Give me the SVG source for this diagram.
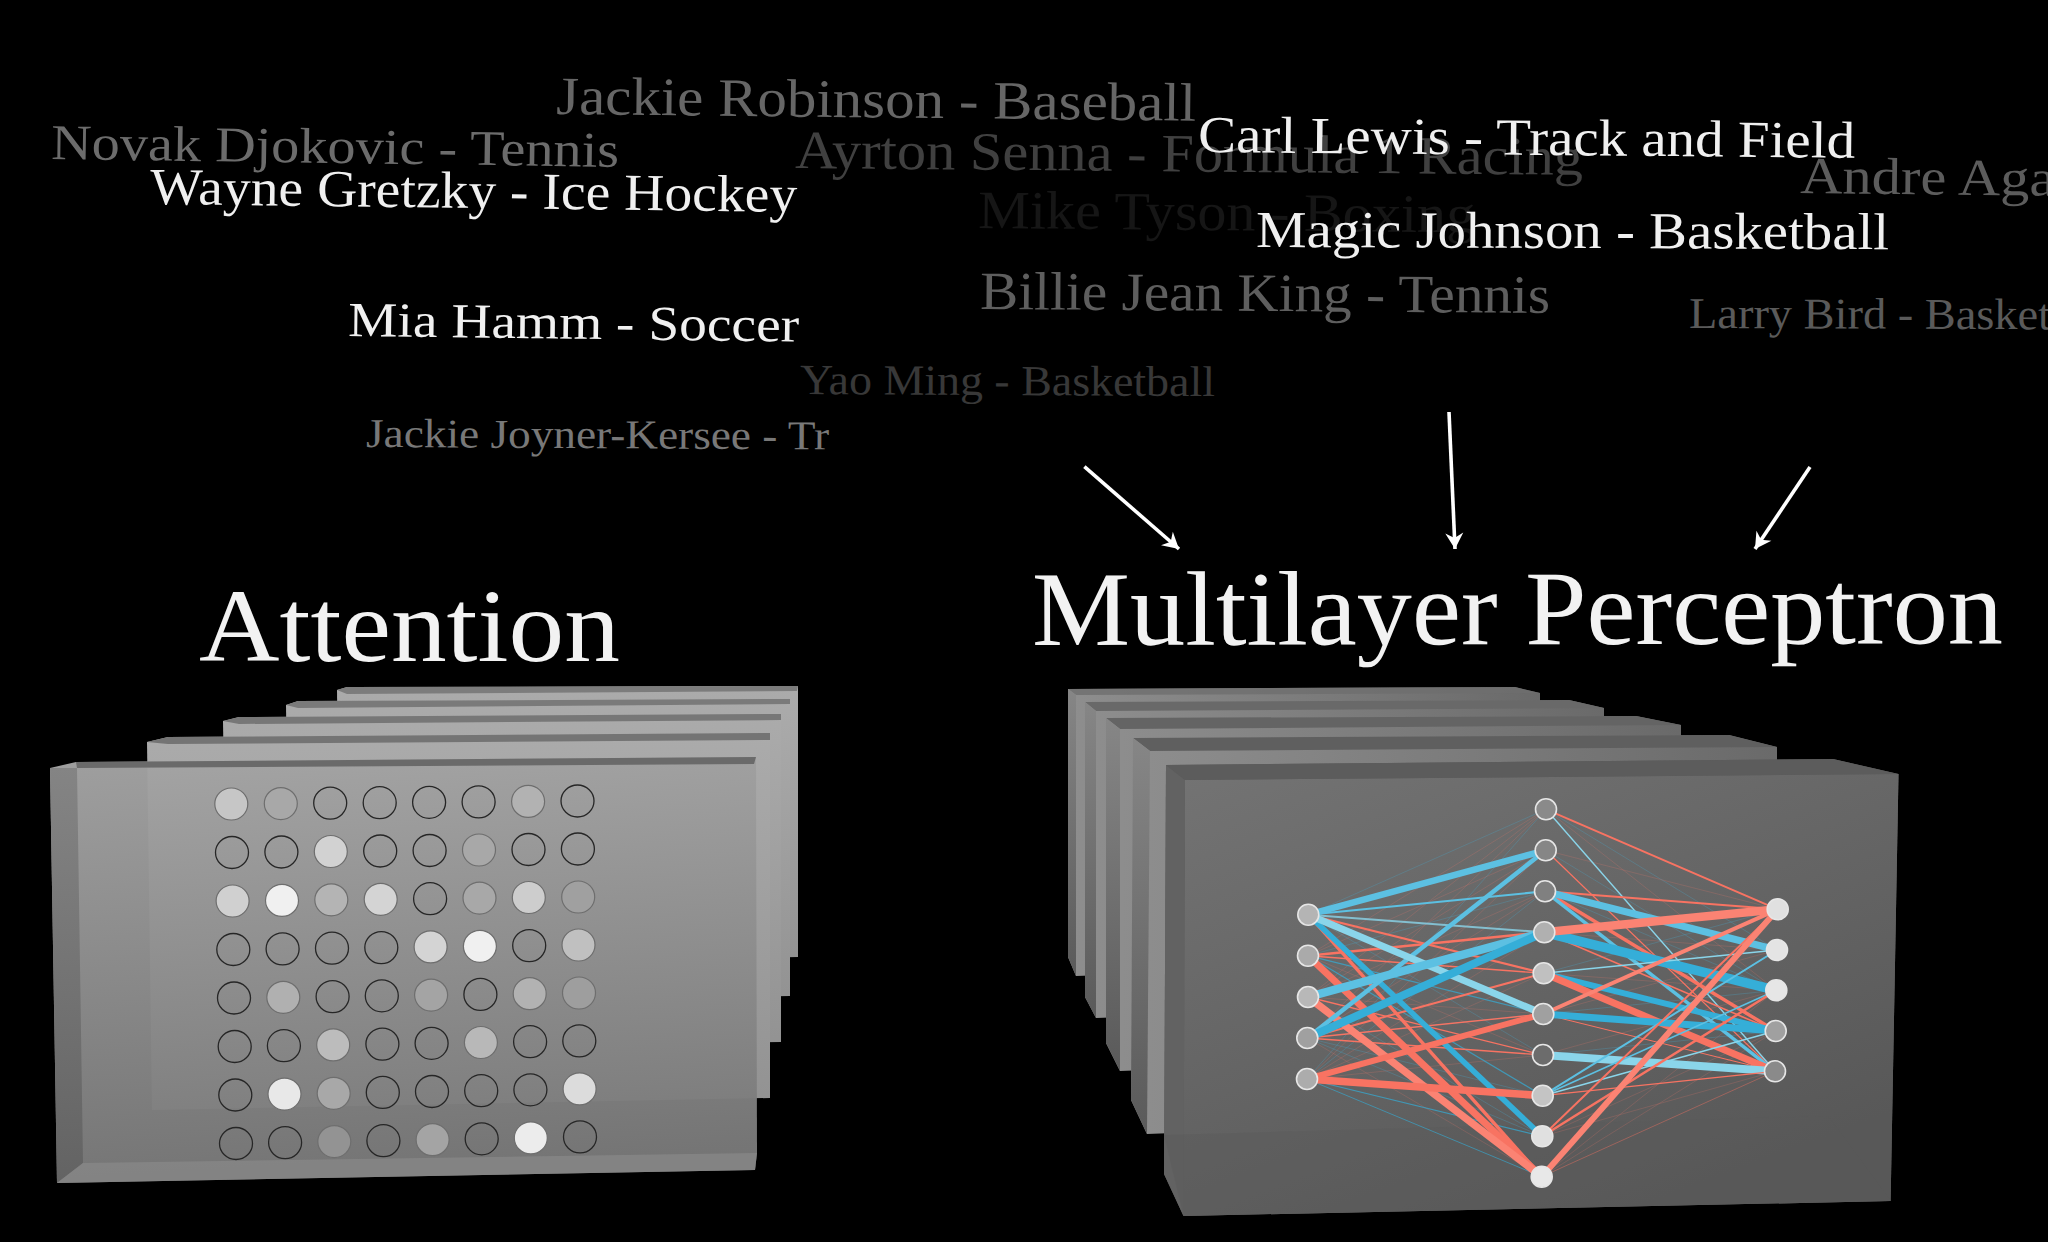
<svg xmlns="http://www.w3.org/2000/svg" width="2048" height="1242" viewBox="0 0 2048 1242">
<defs>
<linearGradient id="af" x1="0" y1="0" x2="0.1" y2="1"><stop offset="0" stop-color="#a4a4a4"/><stop offset="1" stop-color="#797979"/></linearGradient>
<linearGradient id="ab" x1="0" y1="0" x2="0" y2="1"><stop offset="0" stop-color="#ababab"/><stop offset="1" stop-color="#929292"/></linearGradient>
<linearGradient id="al" x1="0" y1="0" x2="0" y2="1"><stop offset="0" stop-color="#848484"/><stop offset="1" stop-color="#636363"/></linearGradient>
<linearGradient id="mf" x1="0" y1="0" x2="0.6" y2="1"><stop offset="0" stop-color="#737373"/><stop offset="1" stop-color="#585858"/></linearGradient>
<linearGradient id="mb" x1="0" y1="0" x2="1" y2="0"><stop offset="0" stop-color="#8e8e8e"/><stop offset="1" stop-color="#6a6a6a"/></linearGradient>
<linearGradient id="ml" x1="0" y1="0" x2="0" y2="1"><stop offset="0" stop-color="#868686"/><stop offset="1" stop-color="#5a5a5a"/></linearGradient>
<marker id="head" markerUnits="userSpaceOnUse" markerWidth="24" markerHeight="24" refX="18" refY="10" orient="auto"><path d="M2,1 L18,10 L2,19 L7,10 Z" fill="#fff"/></marker>
</defs>
<style>
text{font-family:"Liberation Serif","Times New Roman",serif}
.w{fill:#f0f0f0}
.t{fill:#f2f2f2}
ellipse.o{fill:none;stroke:#262626;stroke-width:1.3}
ellipse.h{stroke:#6e6e6e;stroke-width:1.2}
circle{stroke:#e6e6e6;stroke-width:1.6}
line{stroke-linecap:butt}
.r{stroke:#f87362}
.b{stroke:#35aed8}
.c{stroke:#5cc0e2}
.p{stroke:#8ad5ea}
.s{stroke:#fb8373}
.fr{stroke:#e8776a;stroke-width:1;opacity:.22}
.fb{stroke:#4aa6c8;stroke-width:1;opacity:.3}
.ar{stroke:#fff;stroke-width:3.6;fill:none;marker-end:url(#head)}
</style>
<rect width="2048" height="1242" fill="#000"/>

<g id="labels">
<text x="51" y="159" font-size="50" fill="#6c6c6c" textLength="568" lengthAdjust="spacingAndGlyphs" transform="rotate(.8 51 159)">Novak Djokovic - Tennis</text>
<text x="556" y="114" font-size="54" fill="#666" textLength="640" lengthAdjust="spacingAndGlyphs" transform="rotate(.6 556 114)">Jackie Robinson - Baseball</text>
<text x="795" y="168" font-size="54" fill="#404040" textLength="788" lengthAdjust="spacingAndGlyphs" transform="rotate(.5 795 168)">Ayrton Senna - Formula 1 Racing</text>
<text x="978" y="228" font-size="54" fill="#161616" textLength="497" lengthAdjust="spacingAndGlyphs" transform="rotate(.5 978 228)">Mike Tyson - Boxing</text>
<text x="1800" y="193" font-size="52" fill="#5c5c5c" textLength="278" lengthAdjust="spacingAndGlyphs" transform="rotate(.6 1800 193)">Andre Agas</text>
<text x="980" y="309" font-size="54" fill="#5e5e5e" textLength="570" lengthAdjust="spacingAndGlyphs" transform="rotate(.4 980 309)">Billie Jean King - Tennis</text>
<text x="1689" y="328" font-size="44" fill="#5a5a5a" textLength="362" lengthAdjust="spacingAndGlyphs" transform="rotate(.2 1689 328)">Larry Bird - Basket</text>
<text x="800" y="394" font-size="43" fill="#383838" textLength="415" lengthAdjust="spacingAndGlyphs" transform="rotate(.3 800 394)">Yao Ming - Basketball</text>
<text x="150" y="204" font-size="52" class="w" textLength="647" lengthAdjust="spacingAndGlyphs" transform="rotate(.7 150 204)">Wayne Gretzky - Ice Hockey</text>
<text x="1198" y="152" font-size="52" class="w" textLength="657" lengthAdjust="spacingAndGlyphs" transform="rotate(.5 1198 152)">Carl Lewis - Track and Field</text>
<text x="1256" y="247" font-size="52" class="w" textLength="633" lengthAdjust="spacingAndGlyphs" transform="rotate(.2 1256 247)">Magic Johnson - Basketball</text>
<text x="348" y="336" font-size="49" class="w" textLength="451" lengthAdjust="spacingAndGlyphs" transform="rotate(.7 348 336)">Mia Hamm - Soccer</text>
<text x="366" y="447" font-size="41" fill="#787878" textLength="463" lengthAdjust="spacingAndGlyphs" transform="rotate(.3 366 447)">Jackie Joyner-Kersee - Tr</text>
</g>

<g id="titles">
<text x="199" y="661" font-size="104" class="t" textLength="421" lengthAdjust="spacingAndGlyphs">Attention</text>
<text x="1032" y="645" font-size="106" class="t" textLength="971" lengthAdjust="spacingAndGlyphs" transform="rotate(-.1 1032 645)">Multilayer Perceptron</text>
</g>

<g id="connectors-arrows">
<line class="ar" x1="1084.4" y1="466.7" x2="1179" y2="549"/>
<line class="ar" x1="1449" y1="412" x2="1455" y2="549"/>
<line class="ar" x1="1810" y1="467" x2="1755" y2="549"/>
</g>

<g id="attention-panels">
<polygon points="337,690 347,687 798,686 798,957 340,965" fill="url(#ab)"/>
<polygon points="337,690 347,687 798,686 797,691 347,694" fill="#7c7c7c"/>
<polygon points="286,705 298,701 790,699 790,996 290,1005" fill="url(#ab)"/>
<polygon points="286,705 298,701 790,699 790,704 298,708" fill="#7a7a7a"/>
<polygon points="223,721 239,717 781,714 781,1042 228,1052" fill="url(#ab)"/>
<polygon points="223,721 239,717 781,714 781,720 239,724" fill="#777"/>
<polygon points="147,742 168,737 770,733 770,1098 152,1110" fill="url(#ab)"/>
<polygon points="147,742 168,737 770,733 770,740 168,744" fill="#747474"/>
<polygon points="50,768 76,762 756,757 757,1153 755,1170 57,1183" fill="url(#af)" fill-opacity=".97"/>
<polygon points="76,762 756,757 754,764 77,768" fill="#6a6a6a"/>
<polygon points="50,768 77,768 83,1163 57,1183" fill="url(#al)"/>
<polygon points="57,1183 83,1163 757,1153 755,1170" fill="#858585" opacity=".9"/>
</g>

<g id="attention-grid">
<g id="a00"><ellipse class="h" cx="231.3" cy="804" rx="16.5" ry="16" fill="#c6c6c6"/></g>
<g id="a01"><ellipse class="h" cx="280.8" cy="803.6" rx="16.5" ry="16" fill="#a8a8a8"/></g>
<g id="a02"><ellipse class="o" cx="330.2" cy="803.1" rx="16.5" ry="16"/></g>
<g id="a03"><ellipse class="o" cx="379.7" cy="802.7" rx="16.5" ry="16"/></g>
<g id="a04"><ellipse class="o" cx="429.1" cy="802.3" rx="16.5" ry="16"/></g>
<g id="a05"><ellipse class="o" cx="478.6" cy="801.9" rx="16.5" ry="16"/></g>
<g id="a06"><ellipse class="h" cx="528.1" cy="801.4" rx="16.5" ry="16" fill="#b2b2b2"/></g>
<g id="a07"><ellipse class="o" cx="577.5" cy="801" rx="16.5" ry="16"/></g>
<g id="a10"><ellipse class="o" cx="232" cy="852.5" rx="16.5" ry="16"/></g>
<g id="a11"><ellipse class="o" cx="281.4" cy="852" rx="16.5" ry="16"/></g>
<g id="a12"><ellipse class="h" cx="330.8" cy="851.5" rx="16.5" ry="16" fill="#d2d2d2"/></g>
<g id="a13"><ellipse class="o" cx="380.2" cy="851" rx="16.5" ry="16"/></g>
<g id="a14"><ellipse class="o" cx="429.6" cy="850.5" rx="16.5" ry="16"/></g>
<g id="a15"><ellipse class="h" cx="479" cy="850" rx="16.5" ry="16" fill="#a8a8a8"/></g>
<g id="a16"><ellipse class="o" cx="528.5" cy="849.5" rx="16.5" ry="16"/></g>
<g id="a17"><ellipse class="o" cx="577.9" cy="849" rx="16.5" ry="16"/></g>
<g id="a20"><ellipse class="h" cx="232.6" cy="901" rx="16.5" ry="16" fill="#d0d0d0"/></g>
<g id="a21"><ellipse class="h" cx="282" cy="900.4" rx="16.5" ry="16" fill="#f0f0f0"/></g>
<g id="a22"><ellipse class="h" cx="331.3" cy="899.8" rx="16.5" ry="16" fill="#b4b4b4"/></g>
<g id="a23"><ellipse class="h" cx="380.7" cy="899.3" rx="16.5" ry="16" fill="#d4d4d4"/></g>
<g id="a24"><ellipse class="o" cx="430.1" cy="898.7" rx="16.5" ry="16"/></g>
<g id="a25"><ellipse class="h" cx="479.5" cy="898.1" rx="16.5" ry="16" fill="#a8a8a8"/></g>
<g id="a26"><ellipse class="h" cx="528.8" cy="897.5" rx="16.5" ry="16" fill="#cdcdcd"/></g>
<g id="a27"><ellipse class="h" cx="578.2" cy="897" rx="16.5" ry="16" fill="#a0a0a0"/></g>
<g id="a30"><ellipse class="o" cx="233.3" cy="949.5" rx="16.5" ry="16"/></g>
<g id="a31"><ellipse class="o" cx="282.6" cy="948.9" rx="16.5" ry="16"/></g>
<g id="a32"><ellipse class="o" cx="332" cy="948.2" rx="16.5" ry="16"/></g>
<g id="a33"><ellipse class="o" cx="381.3" cy="947.6" rx="16.5" ry="16"/></g>
<g id="a34"><ellipse class="h" cx="430.6" cy="946.9" rx="16.5" ry="16" fill="#d4d4d4"/></g>
<g id="a35"><ellipse class="h" cx="479.9" cy="946.3" rx="16.5" ry="16" fill="#f0f0f0"/></g>
<g id="a36"><ellipse class="o" cx="529.2" cy="945.6" rx="16.5" ry="16"/></g>
<g id="a37"><ellipse class="h" cx="578.5" cy="945" rx="16.5" ry="16" fill="#c0c0c0"/></g>
<g id="a40"><ellipse class="o" cx="234" cy="998" rx="16.5" ry="16"/></g>
<g id="a41"><ellipse class="h" cx="283.3" cy="997.3" rx="16.5" ry="16" fill="#b0b0b0"/></g>
<g id="a42"><ellipse class="o" cx="332.6" cy="996.6" rx="16.5" ry="16"/></g>
<g id="a43"><ellipse class="o" cx="381.8" cy="995.8" rx="16.5" ry="16"/></g>
<g id="a44"><ellipse class="h" cx="431.1" cy="995.1" rx="16.5" ry="16" fill="#a4a4a4"/></g>
<g id="a45"><ellipse class="o" cx="480.4" cy="994.4" rx="16.5" ry="16"/></g>
<g id="a46"><ellipse class="h" cx="529.7" cy="993.7" rx="16.5" ry="16" fill="#b2b2b2"/></g>
<g id="a47"><ellipse class="h" cx="579" cy="993" rx="16.5" ry="16" fill="#9e9e9e"/></g>
<g id="a50"><ellipse class="o" cx="234.7" cy="1046.5" rx="16.5" ry="16"/></g>
<g id="a51"><ellipse class="o" cx="283.9" cy="1045.7" rx="16.5" ry="16"/></g>
<g id="a52"><ellipse class="h" cx="333.2" cy="1044.9" rx="16.5" ry="16" fill="#bcbcbc"/></g>
<g id="a53"><ellipse class="o" cx="382.4" cy="1044.1" rx="16.5" ry="16"/></g>
<g id="a54"><ellipse class="o" cx="431.6" cy="1043.3" rx="16.5" ry="16"/></g>
<g id="a55"><ellipse class="h" cx="480.9" cy="1042.5" rx="16.5" ry="16" fill="#b8b8b8"/></g>
<g id="a56"><ellipse class="o" cx="530.1" cy="1041.7" rx="16.5" ry="16"/></g>
<g id="a57"><ellipse class="o" cx="579.3" cy="1040.9" rx="16.5" ry="16"/></g>
<g id="a60"><ellipse class="o" cx="235.3" cy="1095" rx="16.5" ry="16"/></g>
<g id="a61"><ellipse class="h" cx="284.5" cy="1094.1" rx="16.5" ry="16" fill="#e8e8e8"/></g>
<g id="a62"><ellipse class="h" cx="333.7" cy="1093.3" rx="16.5" ry="16" fill="#a8a8a8"/></g>
<g id="a63"><ellipse class="o" cx="382.8" cy="1092.4" rx="16.5" ry="16"/></g>
<g id="a64"><ellipse class="o" cx="432" cy="1091.5" rx="16.5" ry="16"/></g>
<g id="a65"><ellipse class="o" cx="481.2" cy="1090.7" rx="16.5" ry="16"/></g>
<g id="a66"><ellipse class="o" cx="530.4" cy="1089.8" rx="16.5" ry="16"/></g>
<g id="a67"><ellipse class="h" cx="579.6" cy="1088.9" rx="16.5" ry="16" fill="#dcdcdc"/></g>
<g id="a70"><ellipse class="o" cx="236" cy="1143.5" rx="16.5" ry="16"/></g>
<g id="a71"><ellipse class="o" cx="285.1" cy="1142.6" rx="16.5" ry="16"/></g>
<g id="a72"><ellipse class="h" cx="334.3" cy="1141.6" rx="16.5" ry="16" fill="#939393"/></g>
<g id="a73"><ellipse class="o" cx="383.4" cy="1140.7" rx="16.5" ry="16"/></g>
<g id="a74"><ellipse class="h" cx="432.6" cy="1139.7" rx="16.5" ry="16" fill="#a4a4a4"/></g>
<g id="a75"><ellipse class="o" cx="481.7" cy="1138.8" rx="16.5" ry="16"/></g>
<g id="a76"><ellipse class="h" cx="530.8" cy="1137.9" rx="16.5" ry="16" fill="#ececec"/></g>
<g id="a77"><ellipse class="o" cx="580" cy="1136.9" rx="16.5" ry="16"/></g>
</g>

<g id="mlp-panels">
<polygon points="1068,689 1515,687 1540,693 1540,960 1076,976 1068,957" fill="url(#mb)"/>
<polygon points="1068,689 1515,687 1540,693 1076,695" fill="#6e6e6e" opacity=".8"/>
<polygon points="1068,689 1076,695 1076,976 1068,957" fill="url(#ml)"/>
<polygon points="1085,702 1569,700 1604,708 1604,1000 1096,1018 1085,997" fill="url(#mb)"/>
<polygon points="1085,702 1569,700 1604,708 1096,711" fill="#696969"/>
<polygon points="1085,702 1096,711 1096,1018 1085,997" fill="url(#ml)"/>
<polygon points="1106,718 1636,716 1681,725 1681,1050 1120,1071 1106,1043" fill="url(#mb)"/>
<polygon points="1106,718 1636,716 1681,725 1120,729" fill="#646464"/>
<polygon points="1106,718 1120,729 1120,1071 1106,1043" fill="url(#ml)"/>
<polygon points="1133,738 1729,735 1777,747 1777,1110 1147,1134 1131,1100" fill="url(#mb)"/>
<polygon points="1133,738 1729,735 1777,747 1150,751" fill="#5f5f5f"/>
<polygon points="1133,738 1150,751 1147,1134 1131,1100" fill="url(#ml)"/>
<polygon points="1166,765 1833,759 1898.5,774 1890.6,1201 1183.5,1216 1164,1174" fill="#5e5e5e"/>
<polygon points="1185,780 1898.5,774 1890.6,1201 1183.5,1216" fill="url(#mf)"/>
<polygon points="1166,765 1185,780 1183.5,1216 1164,1174" fill="#626262"/>
<polygon points="1166,765 1833,759 1898.5,774 1185,780" fill="#5c5c5c"/>
<polygon points="1164,1135 1828,1116 1890.6,1201 1183.5,1216" fill="#5a5a5a" opacity=".4"/>
</g>

<g id="connectors-network">
<g>
<line class="fb" x1="1308.3" y1="914.7" x2="1546" y2="809.3"/>
<line class="fr" x1="1308" y1="955.7" x2="1546" y2="809.3"/>
<line class="fr" x1="1308" y1="997" x2="1546" y2="809.3"/>
<line class="fr" x1="1307.3" y1="1038" x2="1546" y2="809.3"/>
<line class="fb" x1="1307" y1="1079" x2="1546" y2="809.3"/>
<line class="fr" x1="1308" y1="955.7" x2="1545.7" y2="850.3"/>
<line class="fr" x1="1308" y1="997" x2="1545.7" y2="850.3"/>
<line class="fr" x1="1307" y1="1079" x2="1545.7" y2="850.3"/>
<line class="fb" x1="1308" y1="955.7" x2="1545" y2="891.3"/>
<line class="fr" x1="1308" y1="997" x2="1545" y2="891.3"/>
<line class="fr" x1="1307.3" y1="1038" x2="1545" y2="891.3"/>
<line class="fb" x1="1307" y1="1079" x2="1545" y2="891.3"/>
<line class="fr" x1="1307" y1="1079" x2="1544.3" y2="932.3"/>
<line class="fb" x1="1307.3" y1="1038" x2="1543.7" y2="973.3"/>
<line class="fr" x1="1307" y1="1079" x2="1543.7" y2="973.3"/>
<line class="fr" x1="1308" y1="997" x2="1543.3" y2="1014"/>
<line class="fb" x1="1307.3" y1="1038" x2="1543.3" y2="1014"/>
<line class="fb" x1="1308.3" y1="914.7" x2="1543" y2="1055"/>
<line class="fr" x1="1308" y1="955.7" x2="1543" y2="1055"/>
<line class="fr" x1="1307" y1="1079" x2="1543" y2="1055"/>
<line class="fb" x1="1307.3" y1="1038" x2="1542.7" y2="1095.7"/>
<line class="fb" x1="1308" y1="997" x2="1542.3" y2="1136.3"/>
<line class="fb" x1="1307.3" y1="1038" x2="1542.3" y2="1136.3"/>
<line class="fr" x1="1307.3" y1="1038" x2="1541.7" y2="1176.7"/>
<line class="fb" x1="1308" y1="955.7" x2="1541.7" y2="1176.7"/>
<line class="fb" x1="1546" y1="809.3" x2="1777" y2="950"/>
<line class="fr" x1="1546" y1="809.3" x2="1776.3" y2="990.3"/>
<line class="fr" x1="1545.7" y1="850.3" x2="1777.7" y2="909.3"/>
<line class="fb" x1="1545.7" y1="850.3" x2="1776.3" y2="990.3"/>
<line class="fb" x1="1545" y1="891.3" x2="1776.3" y2="990.3"/>
<line class="fr" x1="1544.3" y1="932.3" x2="1777" y2="950"/>
<line class="fr" x1="1543.7" y1="973.3" x2="1776.3" y2="990.3"/>
<line class="fb" x1="1543.7" y1="973.3" x2="1777.7" y2="909.3"/>
<line class="fr" x1="1543.3" y1="1014" x2="1777" y2="950"/>
<line class="fb" x1="1543.3" y1="1014" x2="1776.3" y2="990.3"/>
<line class="fb" x1="1543" y1="1055" x2="1775.7" y2="1031"/>
<line class="fr" x1="1543" y1="1055" x2="1776.3" y2="990.3"/>
<line class="fr" x1="1542.3" y1="1136.3" x2="1775.7" y2="1031"/>
<line class="fr" x1="1542.3" y1="1136.3" x2="1775" y2="1071.3"/>
<line class="fb" x1="1542.7" y1="1095.7" x2="1777" y2="950"/>
<line class="fr" x1="1541.7" y1="1176.7" x2="1775.7" y2="1031"/>
<line class="fr" x1="1541.7" y1="1176.7" x2="1776.3" y2="990.3"/>
</g>
<g>
<line class="b" stroke-width="1.2" opacity=".7" x1="1308" y1="955.7" x2="1543.3" y2="1014"/>
<line class="b" stroke-width="1.2" opacity=".7" x1="1308" y1="955.7" x2="1542.7" y2="1095.7"/>
<line class="b" stroke-width="1.2" opacity=".7" x1="1307" y1="1079" x2="1542.3" y2="1136.3"/>
<line class="b" stroke-width="1" opacity=".6" x1="1307" y1="1079" x2="1541.7" y2="1176.7"/>
<line class="p" stroke-width="2" opacity=".8" x1="1308.3" y1="914.7" x2="1544.3" y2="932.3"/>
<line class="c" stroke-width="2" x1="1308.3" y1="914.7" x2="1545" y2="891.3"/>
<line class="r" stroke-width="2.2" x1="1308.3" y1="914.7" x2="1543.7" y2="973.3"/>
<line class="r" stroke-width="2.5" x1="1308" y1="955.7" x2="1544.3" y2="932.3"/>
<line class="r" stroke-width="1.4" x1="1308" y1="955.7" x2="1543.7" y2="973.3"/>
<line class="r" stroke-width="1.3" x1="1308" y1="997" x2="1543" y2="1055"/>
<line class="r" stroke-width="2" x1="1307.3" y1="1038" x2="1543.7" y2="973.3"/>
<line class="r" stroke-width="1.4" x1="1307.3" y1="1038" x2="1543" y2="1055"/>
<line class="r" stroke-width="1.3" x1="1307.3" y1="1038" x2="1543.3" y2="1014"/>
<line class="r" stroke-width="3.4" x1="1308.3" y1="914.7" x2="1541.7" y2="1176.7"/>
<line class="r" stroke-width="7" x1="1308" y1="955.7" x2="1541.7" y2="1176.7"/>
<line class="s" stroke-width="7.5" x1="1308" y1="997" x2="1541.7" y2="1176.7"/>
<line class="b" stroke-width="5.5" x1="1308.3" y1="914.7" x2="1542.3" y2="1136.3"/>
<line class="c" stroke-width="4.5" x1="1307.3" y1="1038" x2="1545.7" y2="850.3"/>
<line class="c" stroke-width="6.5" x1="1308.3" y1="914.7" x2="1545.7" y2="850.3"/>
<line class="p" stroke-width="7" x1="1308.3" y1="914.7" x2="1543.3" y2="1014"/>
<line class="c" stroke-width="8.5" x1="1308" y1="997" x2="1544.3" y2="932.3"/>
<line class="b" stroke-width="8" x1="1307.3" y1="1038" x2="1544.3" y2="932.3"/>
<line class="r" stroke-width="6" x1="1307" y1="1079" x2="1543.3" y2="1014"/>
<line class="r" stroke-width="7.5" x1="1307" y1="1079" x2="1542.7" y2="1095.7"/>
<line class="r" stroke-width="2" x1="1546" y1="809.3" x2="1777.7" y2="909.3"/>
<line class="p" stroke-width="1.4" x1="1546" y1="809.3" x2="1775" y2="1071.3"/>
<line class="r" stroke-width="1.2" x1="1545.7" y1="850.3" x2="1775" y2="1071.3"/>
<line class="r" stroke-width="2" x1="1545" y1="891.3" x2="1777.7" y2="909.3"/>
<line class="r" stroke-width="3.5" x1="1545" y1="891.3" x2="1775.7" y2="1031"/>
<line class="c" stroke-width="7" x1="1545" y1="891.3" x2="1777" y2="950"/>
<line class="c" stroke-width="3.5" x1="1545" y1="891.3" x2="1775" y2="1071.3"/>
<line class="r" stroke-width="1.6" x1="1544.3" y1="932.3" x2="1775.7" y2="1031"/>
<line class="b" stroke-width="9.5" x1="1544.3" y1="932.3" x2="1776.3" y2="990.3"/>
<line class="p" stroke-width="1.4" x1="1543.7" y1="973.3" x2="1777" y2="950"/>
<line class="b" stroke-width="6" x1="1543.7" y1="973.3" x2="1775.7" y2="1031"/>
<line class="r" stroke-width="7" x1="1543.7" y1="973.3" x2="1775" y2="1071.3"/>
<line class="r" stroke-width="1" x1="1543.3" y1="1014" x2="1775" y2="1071.3"/>
<line class="s" stroke-width="4" x1="1543.3" y1="1014" x2="1777.7" y2="909.3"/>
<line class="b" stroke-width="7" x1="1543.3" y1="1014" x2="1775.7" y2="1031"/>
<line class="p" stroke-width="8" x1="1543" y1="1055" x2="1775" y2="1071.3"/>
<line class="c" stroke-width="2" x1="1542.7" y1="1095.7" x2="1777" y2="950"/>
<line class="c" stroke-width="1.6" x1="1542.7" y1="1095.7" x2="1776.3" y2="990.3"/>
<line class="p" stroke-width="1.6" x1="1542.7" y1="1095.7" x2="1775.7" y2="1031"/>
<line class="r" stroke-width="1.2" x1="1542.7" y1="1095.7" x2="1775" y2="1071.3"/>
<line class="r" stroke-width="2" x1="1542.3" y1="1136.3" x2="1777.7" y2="909.3"/>
<line class="r" stroke-width="2.5" x1="1542.3" y1="1136.3" x2="1776.3" y2="990.3"/>
<line class="s" stroke-width="6" x1="1541.7" y1="1176.7" x2="1777.7" y2="909.3"/>
<line class="r" stroke-width=".7" opacity=".6" x1="1541.7" y1="1176.7" x2="1775" y2="1071.3"/>
<line class="s" stroke-width="8.5" x1="1544.3" y1="932.3" x2="1777.7" y2="909.3"/>
</g>
</g>

<g id="mlp-nodes">
<g id="L1"><circle cx="1308.3" cy="914.7" r="10.5" fill="#b4b4b4"/></g>
<g id="L2"><circle cx="1308" cy="955.7" r="10.5" fill="#aaa"/></g>
<g id="L3"><circle cx="1308" cy="997" r="10.5" fill="#b8b8b8"/></g>
<g id="L4"><circle cx="1307.3" cy="1038" r="10.5" fill="#a0a0a0"/></g>
<g id="L5"><circle cx="1307" cy="1079" r="10.5" fill="#acacac"/></g>
<g id="M1"><circle cx="1546" cy="809.3" r="10.5" fill="#8a8a8a"/></g>
<g id="M2"><circle cx="1545.7" cy="850.3" r="10.5" fill="#868686"/></g>
<g id="M3"><circle cx="1545" cy="891.3" r="10.5" fill="#808080"/></g>
<g id="M4"><circle cx="1544.3" cy="932.3" r="10.5" fill="#b0b0b0"/></g>
<g id="M5"><circle cx="1543.7" cy="973.3" r="10.5" fill="#c0c0c0"/></g>
<g id="M6"><circle cx="1543.3" cy="1014" r="10.5" fill="#a0a0a0"/></g>
<g id="M7"><circle cx="1543" cy="1055" r="10.5" fill="#6c6c6c"/></g>
<g id="M8"><circle cx="1542.7" cy="1095.7" r="10.5" fill="#c4c4c4"/></g>
<g id="M9"><circle cx="1542.3" cy="1136.3" r="10.5" fill="#e0e0e0"/></g>
<g id="M10"><circle cx="1541.7" cy="1176.7" r="10.5" fill="#e8e8e8"/></g>
<g id="R1"><circle cx="1777.7" cy="909.3" r="10.5" fill="#e0e0e0"/></g>
<g id="R2"><circle cx="1777" cy="950" r="10.5" fill="#e4e4e4"/></g>
<g id="R3"><circle cx="1776.3" cy="990.3" r="10.5" fill="#e6e6e6"/></g>
<g id="R4"><circle cx="1775.7" cy="1031" r="10.5" fill="#a0a0a0"/></g>
<g id="R5"><circle cx="1775" cy="1071.3" r="10.5" fill="#8a8a8a"/></g>
</g>
</svg>
